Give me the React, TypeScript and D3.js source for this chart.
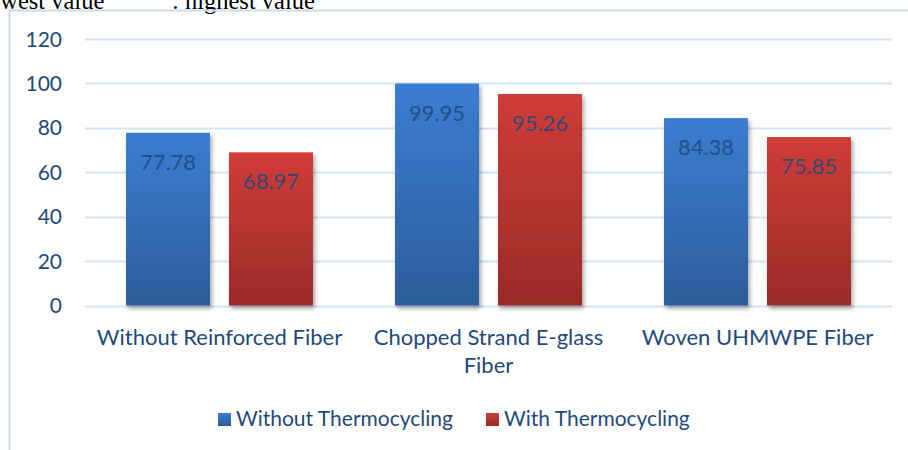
import React from 'react';
import * as d3 from 'd3';

const categories = [['Without Reinforced Fiber'], ['Chopped Strand E-glass', 'Fiber'], ['Woven UHMWPE Fiber']];
const seriesNames = ['Without Thermocycling', 'With Thermocycling'];
const withoutThermo = [77.78, 99.95, 84.38];
const withThermo = [68.97, 95.26, 75.85];
const yTicks = [0, 20, 40, 60, 80, 100, 120];

const W = 908;
const H = 450;
const font = 'Lato, "Open Sans", sans-serif';
const textColor = '#1f497d';
const grid = '#d5e1f1';

export default function App() {
  const values = [withoutThermo, withThermo];
  const x0 = d3.scaleBand<number>()
    .domain(d3.range(categories.length))
    .range([85, 892])
    .paddingInner(0.305)
    .paddingOuter(0.1525);
  const x1 = d3.scaleBand<number>()
    .domain([0, 1])
    .range([0, x0.bandwidth()])
    .paddingInner(0.1845);
  const y = d3.scaleLinear().domain([0, 120]).range([305.5, 39]);

  const grads = [
    { id: 'gBlue', top: '#3b7dd2', bottom: '#2c5d9b' },
    { id: 'gRed', top: '#d03c38', bottom: '#992b28' },
  ];

  return (
    <svg width={W} height={H} style={{ position: 'absolute', left: 0, top: 0, background: '#fff' }}>
      <defs>
        {grads.map(g => (
          <linearGradient key={g.id} id={g.id} x1="0" y1="0" x2="0" y2="1">
            <stop offset="0" stopColor={g.top} />
            <stop offset="1" stopColor={g.bottom} />
          </linearGradient>
        ))}
        <filter id="shadow" x="-10%" y="-10%" width="130%" height="130%">
          <feDropShadow dx="2" dy="3" stdDeviation="2" floodColor="#000" floodOpacity="0.35" />
        </filter>
      </defs>

      {/* caption remnant above the chart, cut off as in the source page */}
      <text x={-27} y={8.5} fontFamily="'Liberation Serif', serif" fontSize={24.5} fill="#000">Lowest value</text>
      <text x={172} y={8.5} fontFamily="'Liberation Serif', serif" fontSize={24.5} fill="#000">: highest value</text>

      {/* chart border */}
      <line x1={9.5} y1={10} x2={9.5} y2={H} stroke="#c9d9ee" strokeWidth={2} />
      <line x1={9} y1={10.5} x2={W} y2={10.5} stroke="#c9d9ee" strokeWidth={2} />

      {yTicks.map(t => (
        <g key={t}>
          <line x1={85} x2={892} y1={Math.round(y(t)) + 0.5} y2={Math.round(y(t)) + 0.5} stroke={grid} strokeWidth={2} />
          <text x={62} y={y(t)} dy="0.36em" textAnchor="end" fontFamily={font} fontSize={21} fill={textColor}>{t}</text>
        </g>
      ))}

      {categories.map((c, i) => (
        <g key={i} transform={`translate(${x0(i)},0)`}>
          {values.map((vals, s) => (
            <rect key={s} x={x1(s)} y={y(vals[i])} width={x1.bandwidth()} height={y(0) - y(vals[i])}
              fill={`url(#${grads[s].id})`} filter="url(#shadow)" />
          ))}
          {values.map((vals, s) => (
            <text key={'l' + s} x={(x1(s) ?? 0) + x1.bandwidth() / 2} y={y(vals[i]) + 37} textAnchor="middle"
              fontFamily={font} fontSize={22} fill={textColor} fillOpacity={0.9}>{vals[i].toFixed(2)}</text>
          ))}
          {c.map((line, k) => (
            <text key={'c' + k} x={x0.bandwidth() / 2} y={345 + k * 28} textAnchor="middle"
              fontFamily={font} fontSize={22} fill={textColor}>{line}</text>
          ))}
        </g>
      ))}

      {/* legend */}
      {seriesNames.map((n, s) => {
        const lx = s === 0 ? 218 : 486;
        return (
          <g key={n}>
            <rect x={lx} y={413} width={13} height={13} fill={`url(#${grads[s].id})`} />
            <text x={lx + 18} y={426} fontFamily={font} fontSize={21} fill={textColor}>{n}</text>
          </g>
        );
      })}
    </svg>
  );
}
